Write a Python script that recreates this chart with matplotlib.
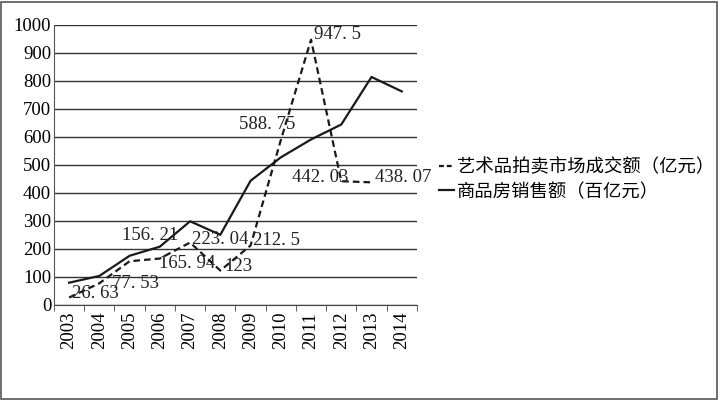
import matplotlib as mpl
mpl.use('Agg')
import matplotlib.pyplot as plt
from matplotlib.lines import Line2D
from matplotlib.patches import Rectangle

years = ['2003', '2004', '2005', '2006', '2007', '2008', '2009',
         '2010', '2011', '2012', '2013', '2014']
# 商品房销售额 (百亿元)
house = [79.6, 103.8, 175.8, 208.3, 298.9, 250.7, 443.6,
         527.2, 591.2, 644.6, 814.3, 762.9]
# 艺术品拍卖市场成交额 (亿元), 2003-2013
art = [26.63, 77.53, 156.21, 165.94, 223.04, 123, 212.5,
       588.75, 947.5, 442.03, 438.07]
art_labels = ['26. 63', '77. 53', '156. 21', '165. 94', '223. 04', '123',
              '212. 5', '588. 75', '947. 5', '442. 03', '438. 07']
# label offsets in pixels (dx, dy) from each point
offsets = [(3, 4), (13, 0), (-8, 26), (-1, -5), (2, 3), (4, 4),
           (2, 5), (-42, 16), (3, 5), (-49, 4), (3, 5)]
legend_names = ['艺术品拍卖市场成交额（亿元）', '商品房销售额（百亿元）']

num_font = 'Liberation Serif'
cjk = ['Noto Sans CJK SC', 'DejaVu Sans']

fig = plt.figure(figsize=(7.2, 4.03), dpi=100)
ax = fig.add_axes([0.075, 0.2432, 0.504, 0.6948])

x = list(range(len(years)))
ax.plot(x, house, '-', color='#1a1a1a', linewidth=1.6)
ax.plot(x[:len(art)], art, '--', color='#1a1a1a', linewidth=1.6, dashes=(3, 1.8))

for i, (v, lab) in enumerate(zip(art, art_labels)):
    ax.annotate(lab, (i, v), xytext=offsets[i], textcoords='offset pixels',
                ha='left', va='center', fontsize=13.5, family=num_font,
                color='#222222')

ax.set_xlim(-0.5, len(years) - 0.5)
ax.set_ylim(0, 1000)
ax.set_yticks(range(0, 1001, 100))
ax.set_yticklabels([str(v) for v in range(0, 1001, 100)], family=num_font,
                   fontsize=13.5)
ax.set_xticks(x)
ax.set_xticklabels(years, rotation=90, family=num_font, fontsize=13.5)
ax.set_xticks([i - 0.5 for i in range(len(years) + 1)], minor=True)
ax.tick_params(axis='x', which='major', length=0, pad=5)
ax.tick_params(axis='x', which='minor', length=4, color='#444444')
ax.tick_params(axis='y', length=0, pad=2)

ax.grid(axis='y', color='#333333', linewidth=1.0)
ax.set_axisbelow(True)
for s in ['top', 'right']:
    ax.spines[s].set_visible(False)
ax.spines['left'].set_color('#555555')
ax.spines['bottom'].set_color('#444444')

handles = [Line2D([], [], color='#1a1a1a', linestyle='--', linewidth=1.6, dashes=(2.2, 1.3)),
           Line2D([], [], color='#1a1a1a', linestyle='-', linewidth=1.6)]
fig.legend(handles, legend_names, loc='upper left', bbox_to_anchor=(0.599, 0.625),
           frameon=False, prop={'family': cjk, 'size': 13.2}, handlelength=0.85,
           handletextpad=0.15, labelspacing=0.35, borderaxespad=0)

fig.patches.append(Rectangle((0.002, 0.01), 0.994, 0.985, transform=fig.transFigure,
                             fill=False, edgecolor='#555555', linewidth=1.2))

fig.savefig('out.png', dpi=100)
